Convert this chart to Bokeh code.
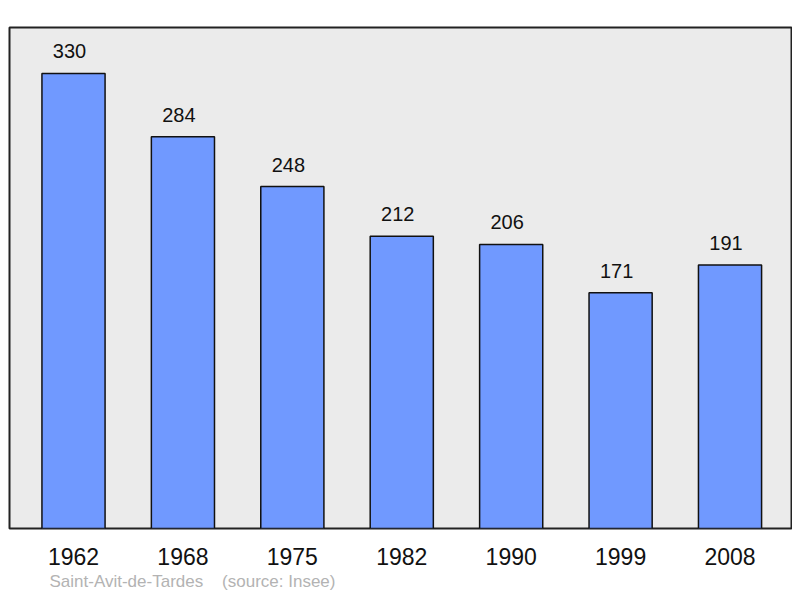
from bokeh.plotting import figure
from bokeh.models import ColumnDataSource, FixedTicker, Title, Range1d
from bokeh.core.properties import value
from bokeh.embed import file_html
from bokeh.resources import INLINE

years = ["1962", "1968", "1975", "1982", "1990", "1999", "2008"]
population = [330, 284, 248, 212, 206, 171, 191]
commune = "Saint-Avit-de-Tardes"
source_note = "(source: Insee)"

xs = list(range(len(years)))
src = ColumnDataSource(dict(x=xs, pop=population, lbl=[str(v) for v in population]))

p = figure(width=792, height=596, output_backend="svg", toolbar_location=None,
           x_range=Range1d(-0.585, 6.571), y_range=Range1d(0, 363.3),
           min_border_left=9, min_border_right=0, min_border_top=27, min_border_bottom=68)
p.background_fill_color = "#ebebeb"
p.border_fill_color = "white"
p.outline_line_color = "#222222"
p.outline_line_width = 2
p.grid.visible = False
p.yaxis.visible = False

p.vbar(x="x", top="pop", width=0.577, source=src, fill_color="#7099ff",
       line_color="#111111", line_width=1.5)

p.text(x="x", y="pop", text="lbl", source=src, x_offset=-4, y_offset=-22,
       text_align="center", text_baseline="alphabetic", text_font=value("Liberation Sans"),
       text_font_size="20px", text_color="#111111")

ax = p.xaxis[0]
ax.ticker = FixedTicker(ticks=xs)
ax.major_label_overrides = {i: y for i, y in enumerate(years)}
ax.axis_line_color = None
ax.major_tick_line_color = None
ax.minor_tick_line_color = None
ax.major_label_standoff = 13
ax.major_label_text_font = "Liberation Sans"
ax.major_label_text_font_size = "23px"
ax.major_label_text_color = "#111111"

foot = Title(text=commune + "\u00a0\u00a0\u00a0\u00a0" + source_note, align="left", offset=40,
             text_font="Liberation Sans", text_font_size="17px",
             text_font_style="normal", text_color="#b3b3b3", standoff=5)
p.add_layout(foot, "below")

open("out.html", "w").write(file_html(p, INLINE))
